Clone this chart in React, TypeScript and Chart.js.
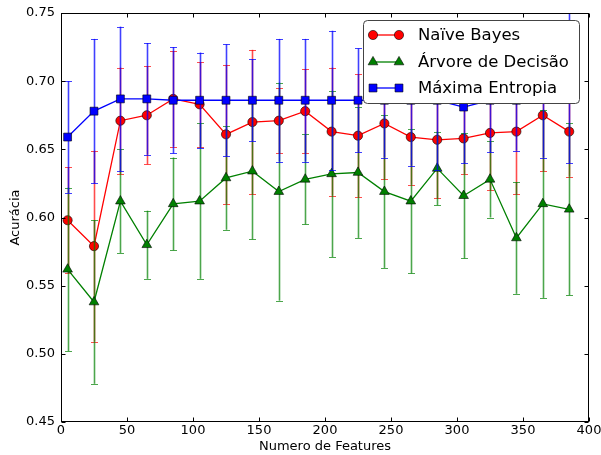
import React, { useEffect, useRef } from 'react';
import { Chart, registerables } from 'chart.js';

Chart.register(...registerables);

const features = [5, 25, 45, 65, 85, 105, 125, 145, 165, 185, 205, 225, 245, 265, 285, 305, 325, 345, 365, 385];

const naiveBayes = [0.598, 0.579, 0.671, 0.675, 0.687, 0.683, 0.661, 0.670, 0.671, 0.678, 0.663, 0.660, 0.669, 0.659, 0.657, 0.658, 0.662, 0.663, 0.675, 0.663];
const naiveBayesErr = [0.039, 0.070, 0.039, 0.036, 0.035, 0.031, 0.051, 0.053, 0.024, 0.031, 0.047, 0.045, 0.041, 0.035, 0.043, 0.026, 0.042, 0.046, 0.041, 0.033];

const decisionTree = [0.562, 0.538, 0.612, 0.580, 0.610, 0.612, 0.629, 0.634, 0.619, 0.628, 0.632, 0.633, 0.619, 0.612, 0.636, 0.616, 0.628, 0.585, 0.610, 0.606];
const decisionTreeErr = [0.060, 0.060, 0.038, 0.025, 0.034, 0.057, 0.038, 0.050, 0.080, 0.033, 0.061, 0.048, 0.056, 0.053, 0.027, 0.046, 0.028, 0.041, 0.069, 0.063];

const maxEntropy = [0.659, 0.678, 0.687, 0.687, 0.686, 0.686, 0.686, 0.686, 0.686, 0.686, 0.686, 0.686, 0.686, 0.686, 0.686, 0.681, 0.686, 0.686, 0.694, 0.695];
const maxEntropyErr = [0.041, 0.053, 0.053, 0.041, 0.039, 0.035, 0.041, 0.030, 0.045, 0.045, 0.051, 0.038, 0.042, 0.048, 0.051, 0.041, 0.038, 0.037, 0.050, 0.055];

const seriesLabels = ['Naïve Bayes', 'Árvore de Decisão', 'Máxima Entropia'];
const xTitle = 'Numero de Features';
const yTitle = 'Acurácia';

const FONT = 'DejaVu Sans';

function drawMarker(ctx: CanvasRenderingContext2D, style: string, x: number, y: number, r: number, fill: string) {
  ctx.save();
  ctx.fillStyle = fill;
  ctx.strokeStyle = '#000';
  ctx.lineWidth = 0.6;
  ctx.beginPath();
  if (style === 'circle') {
    ctx.arc(x, y, r, 0, Math.PI * 2);
  } else if (style === 'triangle') {
    let rad = 0;
    ctx.moveTo(x + Math.sin(rad) * r, y - Math.cos(rad) * r);
    rad += (2 * Math.PI) / 3;
    ctx.lineTo(x + Math.sin(rad) * r, y - Math.cos(rad) * r);
    rad += (2 * Math.PI) / 3;
    ctx.lineTo(x + Math.sin(rad) * r, y - Math.cos(rad) * r);
    ctx.closePath();
  } else {
    const s = Math.SQRT1_2 * r;
    ctx.rect(x - s, y - s, 2 * s, 2 * s);
  }
  ctx.fill();
  ctx.stroke();
  ctx.restore();
}

const errorBarPlugin = {
  id: 'errorBars',
  beforeDatasetDraw(chart: any, args: any) {
    const ds = chart.data.datasets[args.index];
    const errs: number[] = ds.errorBars;
    if (!errs) return;
    const { ctx, chartArea, scales } = chart;
    const xs = scales.x;
    const ys = scales.y;
    ctx.save();
    ctx.beginPath();
    ctx.rect(chartArea.left, chartArea.top, chartArea.right - chartArea.left, chartArea.bottom - chartArea.top);
    ctx.clip();
    ctx.strokeStyle = ds.errorColor;
    ds.data.forEach((pt: any, i: number) => {
      const px = Math.round(xs.getPixelForValue(pt.x)) + 0.5;
      const yt = ys.getPixelForValue(pt.y + errs[i]);
      const yb = ys.getPixelForValue(pt.y - errs[i]);
      ctx.lineWidth = 1.6;
      ctx.beginPath();
      ctx.moveTo(px, yt);
      ctx.lineTo(px, yb);
      ctx.stroke();
      ctx.lineWidth = 1;
      ctx.beginPath();
      ctx.moveTo(px - 3.5, Math.round(yt) + 0.5);
      ctx.lineTo(px + 3.5, Math.round(yt) + 0.5);
      ctx.moveTo(px - 3.5, Math.round(yb) + 0.5);
      ctx.lineTo(px + 3.5, Math.round(yb) + 0.5);
      ctx.stroke();
    });
    ctx.restore();
  },
};

const framePlugin = {
  id: 'frame',
  afterDatasetsDraw(chart: any) {
    const { ctx, chartArea, scales } = chart;
    const l = Math.round(chartArea.left) + 0.5;
    const r = Math.round(chartArea.right) - 0.5;
    const t = Math.round(chartArea.top) + 0.5;
    const b = Math.round(chartArea.bottom) - 0.5;
    ctx.save();
    ctx.strokeStyle = '#000';
    ctx.lineWidth = 1;
    ctx.strokeRect(l, t, r - l, b - t);
    const tl = 4;
    ctx.beginPath();
    scales.x.ticks.forEach((tk: any) => {
      const px = Math.round(scales.x.getPixelForValue(tk.value)) + 0.5;
      ctx.moveTo(px, b);
      ctx.lineTo(px, b - tl);
      ctx.moveTo(px, t);
      ctx.lineTo(px, t + tl);
    });
    scales.y.ticks.forEach((tk: any) => {
      const py = Math.round(scales.y.getPixelForValue(tk.value)) + 0.5;
      ctx.moveTo(l, py);
      ctx.lineTo(l + tl, py);
      ctx.moveTo(r, py);
      ctx.lineTo(r - tl, py);
    });
    ctx.stroke();
    ctx.restore();
  },
};

const legendPlugin = {
  id: 'customLegend',
  afterDraw(chart: any) {
    const { ctx } = chart;
    const bx = 363.5, by = 20.5, bw = 216, bh = 83, rr = 4;
    ctx.save();
    ctx.fillStyle = '#fff';
    ctx.strokeStyle = '#444';
    ctx.lineWidth = 1;
    ctx.beginPath();
    ctx.moveTo(bx + rr, by);
    ctx.lineTo(bx + bw - rr, by);
    ctx.quadraticCurveTo(bx + bw, by, bx + bw, by + rr);
    ctx.lineTo(bx + bw, by + bh - rr);
    ctx.quadraticCurveTo(bx + bw, by + bh, bx + bw - rr, by + bh);
    ctx.lineTo(bx + rr, by + bh);
    ctx.quadraticCurveTo(bx, by + bh, bx, by + bh - rr);
    ctx.lineTo(bx, by + rr);
    ctx.quadraticCurveTo(bx, by, bx + rr, by);
    ctx.closePath();
    ctx.fill();
    ctx.stroke();
    const rows = [35, 62, 88];
    chart.data.datasets.forEach((ds: any, i: number) => {
      const y = rows[i];
      ctx.strokeStyle = ds.borderColor;
      ctx.lineWidth = ds.borderWidth;
      ctx.beginPath();
      ctx.moveTo(373, y);
      ctx.lineTo(399, y);
      ctx.stroke();
      drawMarker(ctx, ds.pointStyle, 373, y, ds.pointRadius, ds.pointBackgroundColor);
      drawMarker(ctx, ds.pointStyle, 399, y, ds.pointRadius, ds.pointBackgroundColor);
      ctx.fillStyle = '#000';
      ctx.font = `16.5px "${FONT}"`;
      ctx.textBaseline = 'middle';
      ctx.textAlign = 'left';
      ctx.fillText(ds.label, 418, y + 1);
    });
    ctx.restore();
  },
};

export default function App() {
  const ref = useRef<HTMLCanvasElement | null>(null);

  useEffect(() => {
    if (!ref.current) return;
    const toPts = (vals: number[]) => features.map((f, i) => ({ x: f, y: vals[i] }));
    const tickFont = { family: FONT, size: 13 };
    const chart = new Chart(ref.current, {
      type: 'line',
      data: {
        datasets: [
          {
            label: seriesLabels[0],
            data: toPts(naiveBayes),
            borderColor: '#ff0000',
            backgroundColor: '#ff0000',
            borderWidth: 1.3,
            pointStyle: 'circle',
            pointRadius: 4.6,
            pointBackgroundColor: '#ff0000',
            pointBorderColor: '#000',
            pointBorderWidth: 0.6,
            tension: 0,
            order: 2,
            errorBars: naiveBayesErr,
            errorColor: 'rgba(255,0,0,0.7)',
          } as any,
          {
            label: seriesLabels[1],
            data: toPts(decisionTree),
            borderColor: '#008000',
            backgroundColor: '#008000',
            borderWidth: 1.3,
            pointStyle: 'triangle',
            pointRadius: 5.6,
            pointBackgroundColor: '#008000',
            pointBorderColor: '#000',
            pointBorderWidth: 0.6,
            tension: 0,
            order: 1,
            errorBars: decisionTreeErr,
            errorColor: 'rgba(0,128,0,0.7)',
          } as any,
          {
            label: seriesLabels[2],
            data: toPts(maxEntropy),
            borderColor: '#0000ff',
            backgroundColor: '#0000ff',
            borderWidth: 1.3,
            pointStyle: 'rect',
            pointRadius: 5.6,
            pointBackgroundColor: '#0000ff',
            pointBorderColor: '#000',
            pointBorderWidth: 0.6,
            tension: 0,
            order: 0,
            errorBars: maxEntropyErr,
            errorColor: 'rgba(0,0,255,0.75)',
          } as any,
        ],
      },
      options: {
        animation: false,
        responsive: false,
        events: [],
        layout: { padding: { top: 13, right: 12, left: 0, bottom: 0 } },
        plugins: {
          legend: { display: false },
          tooltip: { enabled: false },
        },
        scales: {
          x: {
            type: 'linear',
            min: 0,
            max: 400,
            ticks: { stepSize: 50, padding: 1, color: '#000', font: tickFont, maxRotation: 0, autoSkip: false },
            grid: { display: false, drawTicks: false },
            border: { display: false },
            title: { display: true, text: xTitle, color: '#000', font: tickFont, padding: { top: 0, bottom: 1 } },
            afterFit(s: any) {
              s.height = 33;
              s.paddingLeft = 0;
              s.paddingRight = 0;
            },
          },
          y: {
            type: 'linear',
            min: 0.45,
            max: 0.75,
            ticks: {
              stepSize: 0.05,
              padding: 6,
              color: '#000',
              font: tickFont,
              callback: (v: any) => Number(v).toFixed(2),
            },
            grid: { display: false, drawTicks: false },
            border: { display: false },
            title: { display: true, text: yTitle, color: '#000', font: tickFont, padding: { top: 8, bottom: 0 } },
            afterFit(s: any) {
              s.width = 61;
              s.paddingTop = 0;
              s.paddingBottom = 0;
            },
          },
        },
      } as any,
      plugins: [errorBarPlugin, framePlugin, legendPlugin],
    });
    return () => chart.destroy();
  }, []);

  return (
    <div style={{ position: 'absolute', left: 0, top: 0, width: 601, height: 455, background: '#fff' }}>
      <canvas ref={ref} width={601} height={455} />
    </div>
  );
}
